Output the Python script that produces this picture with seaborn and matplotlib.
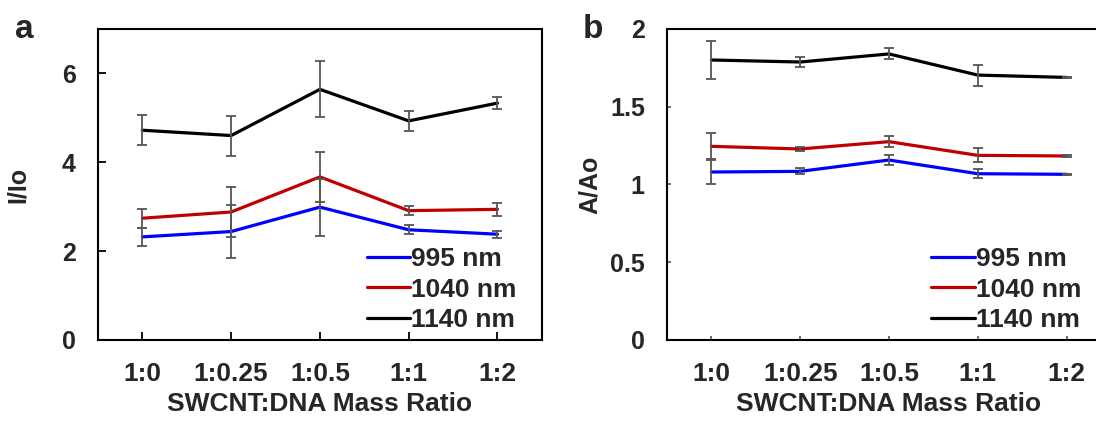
import matplotlib
matplotlib.use('Agg')
import matplotlib.pyplot as plt
import pandas as pd
import seaborn as sns

# mass ratios on the x axis
ratios = ['1:0', '1:0.25', '1:0.5', '1:1', '1:2']
series = ['995 nm', '1040 nm', '1140 nm']
colors = ['#0000ff', '#c00000', '#000000']

# panel a: fluorescence I/Io
io_995 = [2.32, 2.44, 2.99, 2.48, 2.38]
io_1040 = [2.74, 2.88, 3.67, 2.91, 2.94]
io_1140 = [4.72, 4.60, 5.64, 4.93, 5.33]
io_995_err = [0.21, 0.60, 0.64, 0.10, 0.08]
io_1040_err = [0.21, 0.56, 0.57, 0.10, 0.14]
io_1140_err = [0.34, 0.45, 0.63, 0.22, 0.13]

# panel b: absorbance A/Ao
aa_995 = [1.08, 1.084, 1.157, 1.069, 1.065]
aa_1040 = [1.245, 1.228, 1.275, 1.187, 1.183]
aa_1140 = [1.80, 1.787, 1.839, 1.703, 1.688]
aa_995_err = [0.08, 0.02, 0.03, 0.03, 0.004]
aa_1040_err = [0.083, 0.015, 0.035, 0.045, 0.004]
aa_1140_err = [0.125, 0.03, 0.035, 0.067, 0.005]


def make_df(vals, errs):
    rows = []
    for name, v, e in zip(series, vals, errs):
        for i, r in enumerate(ratios):
            rows.append({'ratio': r, 'x': i, 'value': v[i], 'err': e[i], 'series': name})
    return pd.DataFrame(rows)


df_a = make_df([io_995, io_1040, io_1140], [io_995_err, io_1040_err, io_1140_err])
df_b = make_df([aa_995, aa_1040, aa_1140], [aa_995_err, aa_1040_err, aa_1140_err])

sns.set_style('ticks')
plt.rcParams['font.family'] = ['Liberation Sans', 'DejaVu Sans']
plt.rcParams['font.weight'] = 'bold'

fig = plt.figure(figsize=(10.96, 4.21), dpi=100)
ax_a = fig.add_axes([0.0894, 0.1924, 0.405, 0.739])
ax_b = fig.add_axes([0.6086, 0.1924, 0.405, 0.739])


def draw_panel(ax, df, ylim, yticks, yticklabels, ylabel, ylabel_x, tick_len, tick_color):
    sns.lineplot(data=df, x='x', y='value', hue='series', hue_order=series,
                 palette=colors, linewidth=2.3, ax=ax, zorder=2)
    for name in series:
        sub = df[df['series'] == name]
        ax.errorbar(sub['x'], sub['value'], yerr=sub['err'], fmt='none',
                    ecolor='#555555', elinewidth=1.3, capsize=3.6,
                    capthick=1.3, zorder=3)
    ax.set_xlim(-0.5, 4.5)
    ax.set_ylim(*ylim)
    ax.set_xticks(range(len(ratios)))
    ax.set_xticklabels(ratios)
    ax.set_yticks(yticks)
    ax.set_yticklabels(yticklabels)
    ax.tick_params(axis='both', direction='in', pad=16,
                   length=tick_len, width=1.3, color=tick_color)
    ax.tick_params(axis='x', labelsize=19)
    ax.tick_params(axis='y', labelsize=18)
    ax.set_xlabel('SWCNT:DNA Mass Ratio', fontsize=19, fontweight='bold', labelpad=4)
    ax.set_ylabel(ylabel, fontsize=18, fontweight='bold')
    ax.yaxis.set_label_coords(ylabel_x, 0.5)
    for s in ax.spines.values():
        s.set_linewidth(1.5)
        s.set_color('black')
    for lab in ax.get_xticklabels() + ax.get_yticklabels():
        lab.set_fontweight('bold')


draw_panel(ax_a, df_a, (0, 7), [0, 2, 4, 6], ['0', '2', '4', '6'], 'I/Io',
           -0.153, 6, 'black')
draw_panel(ax_b, df_b, (0, 2), [0, 0.5, 1, 1.5, 2], ['0', '0.5', '1', '1.5', '2'],
           'A/Ao', -0.146, 3, '#666666')

leg_kw = dict(frameon=False, fontsize=19, handlelength=1.65, handletextpad=0.05,
              labelspacing=0.25, borderpad=0, borderaxespad=0)
ax_a.legend(loc='lower left', bbox_to_anchor=(0.605, 0.025), **leg_kw)
ax_b.legend(loc='lower left', bbox_to_anchor=(0.595, 0.025), **leg_kw)

fig.text(0.022, 0.93, 'a', fontsize=24, fontweight='bold', ha='center', va='center')
fig.text(0.541, 0.93, 'b', fontsize=24, fontweight='bold', ha='center', va='center')

fig.savefig('out.png', dpi=100, facecolor='white')
